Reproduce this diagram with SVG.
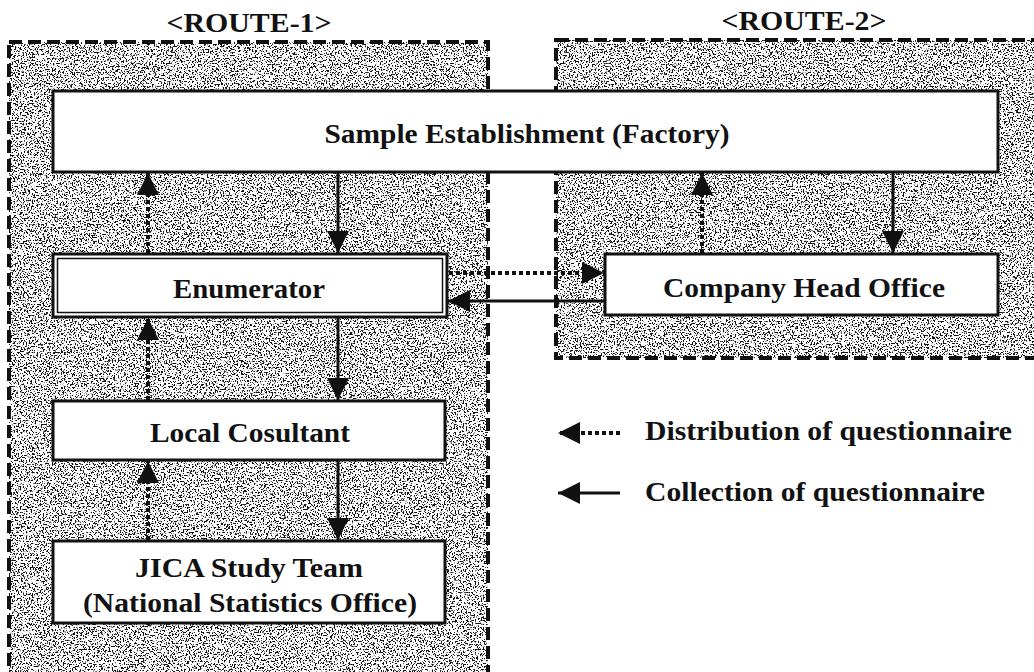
<svg xmlns="http://www.w3.org/2000/svg" width="1034" height="672" viewBox="0 0 1034 672">
  <style>
    .lbl { font-family: "Liberation Serif", "Times New Roman", serif; font-weight: bold; fill: #111; font-size: 27px; }
    .box { fill: #fff; stroke: #111; stroke-width: 3; }
    .route { fill: none; stroke: #111; stroke-width: 4; stroke-dasharray: 13 6; }
    .solid { fill: none; stroke: #111; stroke-width: 3; }
    .dotted { fill: none; stroke: #111; stroke-width: 4; stroke-dasharray: 4 3; }
  </style>
  <defs>
    <!-- speckled screen tone used for the route areas -->
    <filter id="grain" x="0" y="0" width="100%" height="100%" color-interpolation-filters="sRGB">
      <feTurbulence type="fractalNoise" baseFrequency="0.65" numOctaves="2" seed="7" result="noise"/>
      <feColorMatrix in="noise" type="matrix" values="0 0 0 0 0.08  0 0 0 0 0.08  0 0 0 0 0.08  16 0 0 0 -8.7" result="dots"/>
      <feComposite in="dots" in2="SourceAlpha" operator="in"/>
    </filter>
    <marker id="head" markerUnits="userSpaceOnUse" markerWidth="22" markerHeight="22" viewBox="0 0 20 20" refX="20" refY="10" orient="auto">
      <path d="M0,0 L20,10 L0,20 Z" fill="#111"/>
    </marker>
  </defs>

  <rect width="1034" height="672" fill="#fff"/>

  <!-- route areas -->
  <g id="route1">
    <rect x="9" y="42" width="479" height="650" fill="#fff" filter="url(#grain)"/>
    <rect class="route" x="9" y="42" width="479" height="650"/>
    <text class="lbl" x="249" y="32" font-size="25" text-anchor="middle" textLength="165" lengthAdjust="spacingAndGlyphs">&lt;ROUTE-1&gt;</text>
  </g>
  <g id="route2">
    <rect x="556" y="40" width="500" height="318" fill="#fff" filter="url(#grain)"/>
    <rect class="route" x="556" y="40" width="500" height="318"/>
    <text class="lbl" x="804" y="30" font-size="25" text-anchor="middle" textLength="165" lengthAdjust="spacingAndGlyphs">&lt;ROUTE-2&gt;</text>
  </g>

  <!-- connectors -->
  <g id="connectors">
    <line class="solid" x1="338" y1="173" x2="338" y2="253" marker-end="url(#head)"/>
    <line class="dotted" x1="148" y1="253" x2="148" y2="173" marker-end="url(#head)"/>
    <line class="solid" x1="338" y1="318" x2="338" y2="400" marker-end="url(#head)"/>
    <line class="dotted" x1="148" y1="400" x2="148" y2="318" marker-end="url(#head)"/>
    <line class="solid" x1="338" y1="461" x2="338" y2="540" marker-end="url(#head)"/>
    <line class="dotted" x1="148" y1="540" x2="148" y2="461" marker-end="url(#head)"/>
    <line class="solid" x1="893" y1="173" x2="893" y2="253" marker-end="url(#head)"/>
    <line class="dotted" x1="702" y1="253" x2="702" y2="173" marker-end="url(#head)"/>
    <line class="dotted" x1="449" y1="273" x2="604" y2="273" marker-end="url(#head)"/>
    <line class="solid" x1="604" y1="301" x2="448" y2="301" marker-end="url(#head)"/>
  </g>

  <!-- nodes -->
  <g id="sample">
    <rect class="box" x="53" y="91" width="945" height="81"/>
    <text class="lbl" x="527" y="143" text-anchor="middle" textLength="405" lengthAdjust="spacingAndGlyphs">Sample Establishment (Factory)</text>
  </g>
  <g id="enumerator">
    <rect x="53" y="254" width="394" height="63" fill="#fff" stroke="#111" stroke-width="3"/>
    <rect x="57.5" y="258.5" width="385" height="54" fill="none" stroke="#111" stroke-width="1.5"/>
    <text class="lbl" x="249" y="298" text-anchor="middle" textLength="152" lengthAdjust="spacingAndGlyphs">Enumerator</text>
  </g>
  <g id="head-office">
    <rect class="box" x="605" y="254" width="393" height="61"/>
    <text class="lbl" x="804" y="297" text-anchor="middle" textLength="282" lengthAdjust="spacingAndGlyphs">Company Head Office</text>
  </g>
  <g id="local-consultant">
    <rect class="box" x="53" y="401" width="392" height="59"/>
    <text class="lbl" x="250" y="442" text-anchor="middle" textLength="200" lengthAdjust="spacingAndGlyphs">Local Cosultant</text>
  </g>
  <g id="jica">
    <rect class="box" x="53" y="541" width="392" height="82"/>
    <text class="lbl" x="249" y="577" text-anchor="middle" textLength="228" lengthAdjust="spacingAndGlyphs">JICA Study Team</text>
    <text class="lbl" x="250" y="612" text-anchor="middle" textLength="334" lengthAdjust="spacingAndGlyphs">(National Statistics Office)</text>
  </g>

  <!-- legend -->
  <g id="legend">
    <line class="dotted" x1="620" y1="433" x2="558" y2="433" stroke-dasharray="3 3" marker-end="url(#head)"/>
    <text class="lbl" x="645" y="440" textLength="367" lengthAdjust="spacingAndGlyphs">Distribution of questionnaire</text>
    <line class="solid" x1="620" y1="493" x2="558" y2="493" marker-end="url(#head)"/>
    <text class="lbl" x="645" y="501" textLength="340" lengthAdjust="spacingAndGlyphs">Collection of questionnaire</text>
  </g>
</svg>
